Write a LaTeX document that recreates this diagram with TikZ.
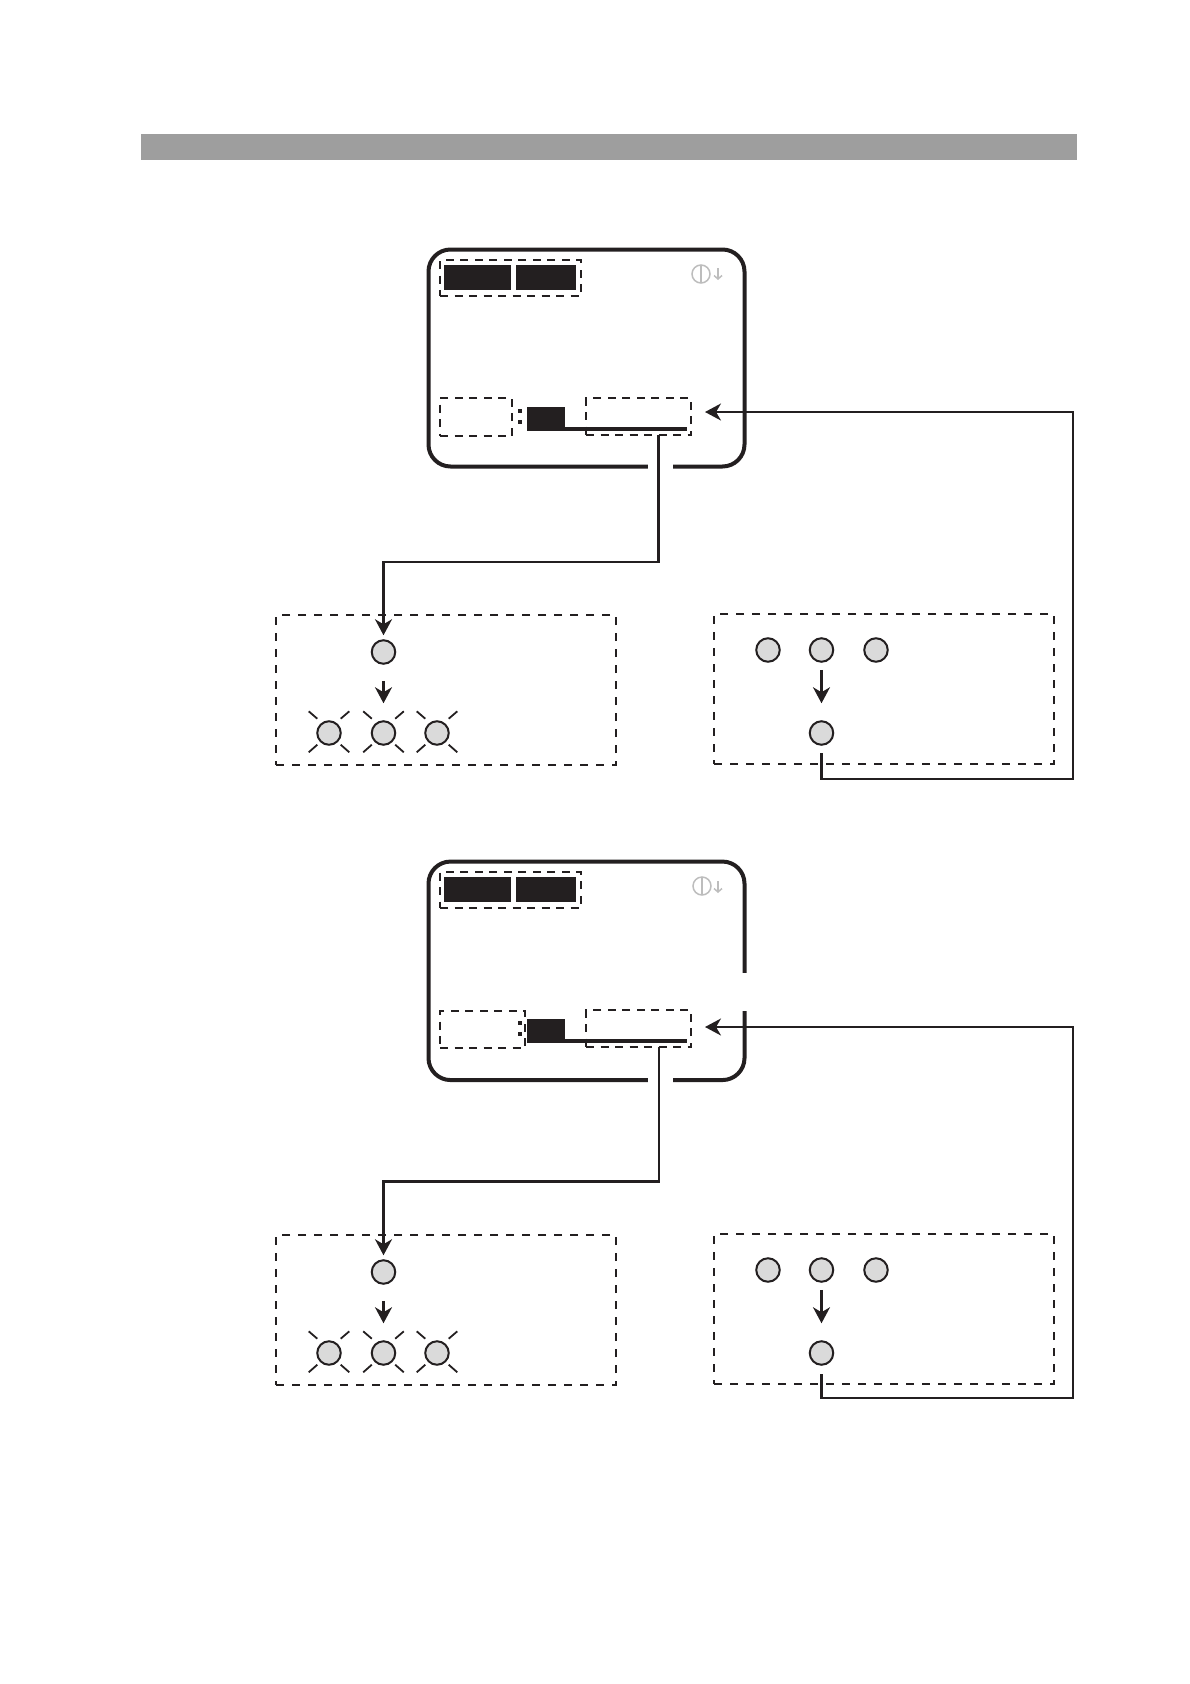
\documentclass[tikz,border=0pt]{standalone}
\usetikzlibrary{arrows.meta}
\definecolor{ink}{HTML}{231F20}
\definecolor{ledgray}{HTML}{DADADA}
\definecolor{icongray}{HTML}{BDBDBD}
\newcommand{\blink}[1]{\draw[ray,shift={(#1)}] (-11.7,-14.3) -- (-20.3,-21.7) (11.7,-14.3) -- (20.3,-21.7) (-11.7,11.7) -- (-20.3,19.3) (11.7,11.7) -- (20.3,19.3);}

\begin{document}
\begin{tikzpicture}[x=1pt, y=-1pt,
  box/.style={rectangle, inner sep=0pt, outer sep=0pt},
  solid block/.style={box, fill=ink},
  screen/.style={box, draw=ink, line width=4pt, rounded corners=22pt, minimum width=316pt},
  field/.style={box, draw=ink, line width=2pt, dash pattern=on 8pt off 6.5pt},
  panel/.style={box, draw=ink, line width=2pt, dash pattern=on 8pt off 8pt, minimum width=340pt, minimum height=150pt},
  gap/.style={box, fill=white},
  led/.style={circle, draw=ink, fill=ledgray, line width=2pt, minimum size=23.5pt, inner sep=0pt, outer sep=1pt},
  ray/.style={draw=ink, line width=1.8pt},
  flow/.style={draw=ink, line width=2.2pt, -{Stealth[length=16pt,width=17pt,inset=5pt]}},
  icon/.style={circle, draw=icongray, line width=1.5pt, minimum size=18pt, inner sep=0pt, outer sep=0pt}]
\useasboundingbox (0,0) rectangle (1190,1684);

\node[box, fill=black!38, minimum width=936pt, minimum height=26pt] (Bar) at (609,147) {};

\node[screen, minimum height=217pt] (Scr1) at (586.5,358) {};
\node[gap, minimum width=25pt, minimum height=8pt] (Cut1) at (660.5,466.5) {};
\node[solid block, minimum width=67pt, minimum height=25pt] (KeyA1) at (477.5,277.5) {};
\node[solid block, minimum width=60pt, minimum height=25pt] (KeyB1) at (546,277.5) {};
\node[field, minimum width=141pt, minimum height=36pt] (Head1) at (510.5,278) {};
\node[icon] (Icon1) at (701,274) {};
\draw[icongray, line width=1.5pt] (Icon1.north) -- (Icon1.south);
\coordinate (IconTop1) at (718,268);
\coordinate (IconEnd1) at (718,280);
\draw[icongray, line width=1.5pt, -{Straight Barb[length=3.5pt,width=8pt]}] (IconTop1) -- (IconEnd1);
\node[field, minimum width=72pt, minimum height=38pt] (Hour1) at (476,417) {};
\node[solid block, minimum size=4pt] (DotA1) at (520,411) {};
\node[solid block, minimum size=4pt] (DotB1) at (520,422) {};
\node[solid block, minimum width=38pt, minimum height=24pt] (Min1) at (546,419) {};
\node[solid block, minimum width=122pt, minimum height=4pt] (Line1) at (626,429) {};
\node[field, minimum width=105pt, minimum height=37pt] (Sec1) at (638.5,416.5) {};

\node[panel] (Left1) at (446,690) {};
\node[led] (Top1) at (383.5,652) {};
\node[led] (LedA1) at (329,733) {};
\node[led] (LedB1) at (383.5,733) {};
\node[led] (LedC1) at (437,733) {};
\blink{LedA1} \blink{LedB1} \blink{LedC1}
\node[panel] (Right1) at (884,689) {};
\node[led] (OffA1) at (768,650) {};
\node[led] (OffB1) at (821.5,650) {};
\node[led] (OffC1) at (876,650) {};
\node[led] (On1) at (821.5,733) {};

\coordinate (Out1) at (658.5,435);
\coordinate (Bend1) at (383.5,562);
\coordinate (Back1) at (821.5,753);
\coordinate (Turn1) at (1073,779);
\coordinate (In1) at (705,412);
\draw[flow, shorten >=4pt] (Out1) |- (Bend1) -- (Top1.north);
\draw[flow, shorten <=16pt, shorten >=17pt] (Top1.south) -- (LedB1.north);
\draw[flow, shorten <=7pt, shorten >=17pt] (OffB1.south) -- (On1.north);
\draw[flow] (Back1) |- (Turn1) |- (In1);

\node[screen, minimum height=218.5pt] (Scr2) at (586.5,970.8) {};
\node[gap, minimum width=25pt, minimum height=8pt] (Cut2) at (660.5,1080) {};
\node[gap, minimum width=8pt, minimum height=38pt] (Side2) at (744.5,992) {};
\node[solid block, minimum width=67pt, minimum height=25pt] (KeyA2) at (477.5,889.5) {};
\node[solid block, minimum width=60pt, minimum height=25pt] (KeyB2) at (546,889.5) {};
\node[field, minimum width=141pt, minimum height=36pt] (Head2) at (510.5,889.5) {};
\node[icon] (Icon2) at (702,886) {};
\draw[icongray, line width=1.5pt] (Icon2.north) -- (Icon2.south);
\coordinate (IconTop2) at (718,881);
\coordinate (IconEnd2) at (718,893);
\draw[icongray, line width=1.5pt, -{Straight Barb[length=3.5pt,width=8pt]}] (IconTop2) -- (IconEnd2);
\node[field, minimum width=85pt, minimum height=37pt] (Hour2) at (482.5,1029.5) {};
\node[solid block, minimum size=4pt] (DotA2) at (520,1023) {};
\node[solid block, minimum size=4pt] (DotB2) at (520,1034) {};
\node[solid block, minimum width=38pt, minimum height=24pt] (Min2) at (546,1031) {};
\node[solid block, minimum width=122pt, minimum height=4pt] (Line2) at (626,1041) {};
\node[field, minimum width=105pt, minimum height=37pt] (Sec2) at (638.5,1028.5) {};

\node[panel] (Left2) at (446,1310) {};
\node[led] (Top2) at (383.5,1272) {};
\node[led] (LedA2) at (329,1353) {};
\node[led] (LedB2) at (383.5,1353) {};
\node[led] (LedC2) at (437,1353) {};
\blink{LedA2} \blink{LedB2} \blink{LedC2}
\node[panel] (Right2) at (884,1309) {};
\node[led] (OffA2) at (768,1270) {};
\node[led] (OffB2) at (821.5,1270) {};
\node[led] (OffC2) at (876,1270) {};
\node[led] (On2) at (821.5,1353) {};

\coordinate (Out2) at (659,1047);
\coordinate (Bend2) at (383.5,1181.5);
\coordinate (Back2) at (821.5,1374);
\coordinate (Turn2) at (1073,1398);
\coordinate (In2) at (705,1027);
\draw[flow, shorten >=4pt] (Out2) |- (Bend2) -- (Top2.north);
\draw[flow, shorten <=16pt, shorten >=17pt] (Top2.south) -- (LedB2.north);
\draw[flow, shorten <=7pt, shorten >=17pt] (OffB2.south) -- (On2.north);
\draw[flow] (Back2) |- (Turn2) |- (In2);
\end{tikzpicture}
\end{document}
